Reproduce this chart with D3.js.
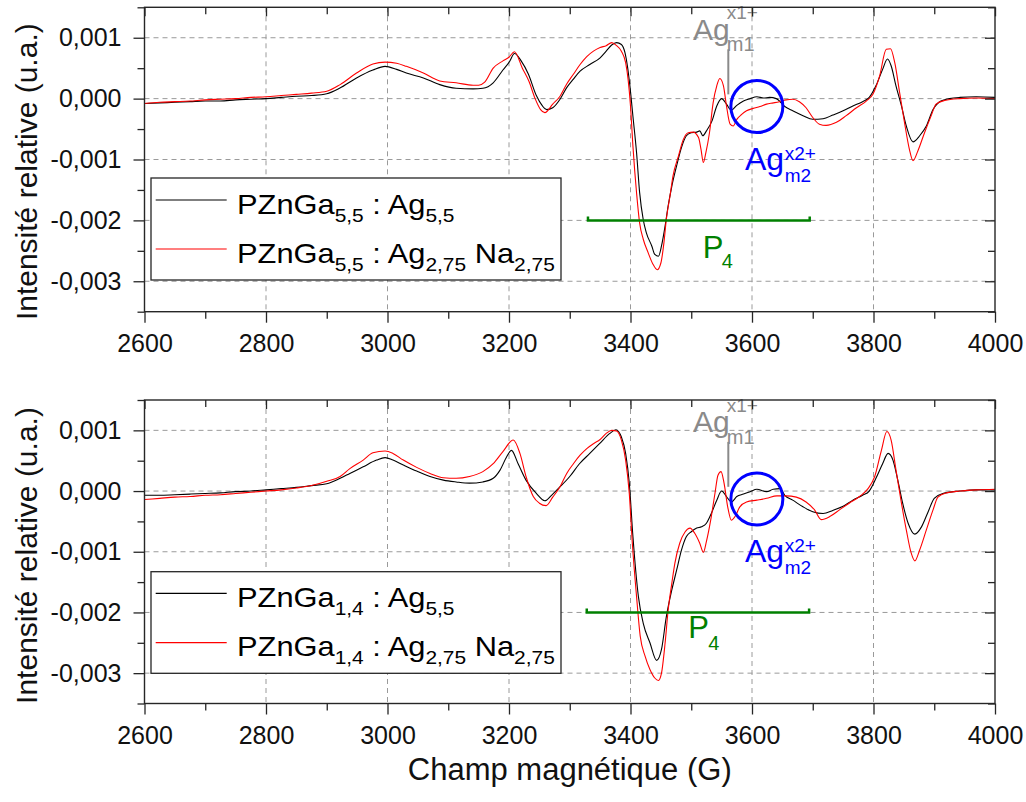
<!DOCTYPE html>
<html><head><meta charset="utf-8">
<script src="https://cdn.jsdelivr.net/npm/d3@7"></script>
<style>
body{margin:0;background:#fff}
svg{display:block}
text{font-family:"Liberation Sans",Arial,Helvetica,sans-serif}
</style>
</head><body>
<svg id="chart" width="1026" height="802"></svg>
<script>
// ---- DATA (field in G, intensity in units of 0.001 u.a.) ----
const topBlack = [[2600,-0.08],[2625,-0.07],[2650,-0.06],[2675,-0.05],[2700,-0.04],[2725,-0.04],[2750,-0.02],[2775,-0.01],[2800,0.0],[2825,0.02],[2850,0.04],[2875,0.05],[2900,0.08],[2921,0.17],[2949,0.34],[2976,0.47],[2996,0.53],[3015,0.48],[3031,0.42],[3059,0.34],[3086,0.23],[3113,0.17],[3141,0.16],[3157,0.17],[3174,0.26],[3190,0.47],[3201,0.61],[3209,0.74],[3220,0.62],[3232,0.4],[3245,0.05],[3255,-0.12],[3262,-0.18],[3272,-0.15],[3284,-0.01],[3295,0.18],[3306,0.32],[3317,0.45],[3333,0.56],[3350,0.67],[3360,0.78],[3369,0.88],[3377,0.92],[3385,0.89],[3391,0.75],[3395,0.53],[3399,0.21],[3404,-0.29],[3410,-0.89],[3415,-1.54],[3421,-1.99],[3426,-2.2],[3435,-2.42],[3440,-2.56],[3446,-2.59],[3451,-2.42],[3457,-2.09],[3462,-1.76],[3468,-1.44],[3476,-1.1],[3484,-0.8],[3492,-0.61],[3500,-0.56],[3509,-0.55],[3514,-0.53],[3519,-0.61],[3525,-0.53],[3534,-0.37],[3542,-0.12],[3550,0.0],[3558,-0.09],[3566,-0.19],[3575,-0.11],[3586,-0.04],[3597,0.0],[3608,0.03],[3619,0.01],[3629,0.02],[3640,0.0],[3654,-0.13],[3667,-0.2],[3684,-0.28],[3700,-0.34],[3717,-0.33],[3733,-0.27],[3750,-0.2],[3766,-0.12],[3782,-0.05],[3793,0.02],[3804,0.21],[3815,0.48],[3823,0.65],[3829,0.54],[3837,0.21],[3846,-0.12],[3854,-0.45],[3865,-0.71],[3876,-0.61],[3887,-0.45],[3898,-0.18],[3911,-0.04],[3925,0.0],[3942,0.02],[3969,0.03],[4000,0.02]];

const topRed = [[2600,-0.08],[2625,-0.06],[2650,-0.05],[2675,-0.04],[2700,-0.02],[2725,-0.01],[2750,0.0],[2775,0.02],[2800,0.03],[2825,0.05],[2850,0.07],[2875,0.09],[2900,0.12],[2922,0.23],[2949,0.42],[2976,0.57],[2996,0.6],[3015,0.58],[3031,0.53],[3059,0.42],[3086,0.29],[3113,0.26],[3141,0.22],[3150,0.22],[3160,0.27],[3174,0.5],[3190,0.62],[3200,0.68],[3209,0.77],[3222,0.5],[3233,0.28],[3243,0.0],[3252,-0.18],[3259,-0.23],[3272,-0.09],[3284,0.04],[3295,0.24],[3306,0.4],[3317,0.56],[3328,0.69],[3339,0.78],[3350,0.84],[3360,0.87],[3369,0.92],[3377,0.87],[3385,0.78],[3392,0.59],[3396,0.32],[3400,-0.12],[3404,-0.78],[3410,-1.55],[3415,-2.04],[3421,-2.31],[3429,-2.53],[3437,-2.72],[3444,-2.81],[3450,-2.7],[3455,-2.37],[3459,-1.98],[3465,-1.6],[3470,-1.27],[3479,-0.94],[3487,-0.67],[3495,-0.56],[3503,-0.55],[3512,-0.64],[3516,-0.83],[3520,-1.05],[3524,-0.89],[3530,-0.56],[3536,-0.07],[3542,0.21],[3547,0.33],[3553,0.21],[3558,-0.12],[3564,-0.42],[3569,-0.45],[3575,-0.34],[3583,-0.26],[3591,-0.2],[3602,-0.16],[3613,-0.13],[3624,-0.09],[3635,-0.07],[3645,-0.05],[3656,-0.02],[3667,-0.01],[3678,-0.05],[3689,-0.15],[3700,-0.31],[3711,-0.42],[3722,-0.44],[3739,-0.39],[3755,-0.28],[3772,-0.15],[3788,-0.04],[3799,0.07],[3810,0.37],[3821,0.81],[3828,0.82],[3835,0.59],[3843,0.1],[3851,-0.39],[3859,-0.83],[3865,-1.02],[3873,-0.86],[3884,-0.56],[3895,-0.28],[3903,-0.09],[3917,-0.03],[3942,0.0],[3969,0.01],[4000,0.0]];

const bottomBlack = [[2600,-0.07],[2625,-0.07],[2650,-0.06],[2675,-0.05],[2700,-0.04],[2725,-0.03],[2750,-0.01],[2775,0.0],[2800,0.02],[2825,0.04],[2850,0.06],[2875,0.09],[2900,0.12],[2922,0.21],[2938,0.29],[2960,0.4],[2982,0.51],[2996,0.55],[3009,0.51],[3026,0.43],[3048,0.33],[3070,0.24],[3092,0.18],[3113,0.15],[3135,0.13],[3157,0.15],[3174,0.21],[3185,0.34],[3196,0.56],[3204,0.67],[3215,0.45],[3228,0.18],[3245,-0.04],[3259,-0.16],[3270,-0.07],[3283,0.06],[3300,0.24],[3316,0.45],[3333,0.62],[3349,0.78],[3366,0.95],[3376,1.01],[3385,0.89],[3392,0.62],[3398,0.13],[3404,-0.75],[3413,-1.74],[3421,-2.18],[3432,-2.5],[3443,-2.79],[3451,-2.61],[3459,-2.07],[3468,-1.63],[3476,-1.3],[3484,-0.97],[3492,-0.75],[3500,-0.67],[3509,-0.61],[3517,-0.59],[3525,-0.53],[3533,-0.37],[3542,-0.15],[3550,0.0],[3558,-0.09],[3566,-0.18],[3575,-0.09],[3586,-0.05],[3597,-0.01],[3608,0.03],[3624,-0.01],[3635,0.03],[3646,0.04],[3654,-0.07],[3667,-0.15],[3684,-0.26],[3700,-0.34],[3717,-0.37],[3733,-0.32],[3750,-0.25],[3766,-0.15],[3782,-0.07],[3793,0.0],[3804,0.21],[3815,0.45],[3824,0.62],[3832,0.51],[3840,0.18],[3848,-0.2],[3857,-0.53],[3868,-0.71],[3879,-0.59],[3890,-0.34],[3900,-0.12],[3914,-0.04],[3942,0.0],[3969,0.02],[4000,0.02]];

const bottomRed = [[2600,-0.14],[2625,-0.12],[2650,-0.1],[2675,-0.09],[2700,-0.07],[2725,-0.06],[2750,-0.04],[2775,-0.02],[2800,0.0],[2825,0.02],[2850,0.05],[2875,0.09],[2900,0.16],[2922,0.24],[2938,0.37],[2960,0.51],[2976,0.63],[2996,0.66],[3009,0.62],[3026,0.51],[3048,0.39],[3070,0.29],[3092,0.22],[3113,0.21],[3135,0.24],[3157,0.32],[3174,0.45],[3190,0.65],[3207,0.84],[3218,0.62],[3228,0.24],[3240,-0.09],[3250,-0.2],[3261,-0.24],[3272,-0.1],[3284,0.07],[3295,0.29],[3306,0.45],[3317,0.59],[3328,0.7],[3339,0.78],[3350,0.85],[3360,0.95],[3369,1.0],[3377,0.99],[3385,0.84],[3392,0.51],[3398,-0.04],[3403,-0.86],[3410,-1.74],[3416,-2.39],[3424,-2.72],[3432,-2.94],[3440,-3.08],[3446,-3.12],[3451,-3.0],[3457,-2.5],[3462,-1.96],[3468,-1.52],[3473,-1.19],[3481,-0.86],[3490,-0.67],[3498,-0.61],[3506,-0.7],[3514,-0.86],[3520,-1.01],[3525,-0.83],[3532,-0.48],[3539,-0.04],[3544,0.26],[3549,0.32],[3554,0.13],[3560,-0.26],[3566,-0.48],[3572,-0.42],[3580,-0.26],[3591,-0.18],[3608,-0.15],[3624,-0.12],[3641,-0.08],[3656,-0.08],[3673,-0.1],[3689,-0.18],[3703,-0.31],[3714,-0.47],[3728,-0.42],[3744,-0.31],[3760,-0.2],[3777,-0.09],[3791,0.04],[3802,0.24],[3813,0.67],[3822,0.98],[3829,0.84],[3837,0.35],[3846,-0.2],[3854,-0.64],[3862,-1.02],[3868,-1.15],[3876,-0.97],[3887,-0.64],[3898,-0.31],[3906,-0.1],[3920,-0.03],[3942,0.0],[3969,0.02],[4000,0.03]];

const xTickValues = [2600,2800,3000,3200,3400,3600,3800,4000];
const xMinorValues = [2700,2900,3100,3300,3500,3700,3900];
const yTickValues = [-0.003,-0.002,-0.001,0,0.001];
const yTickLabels = ["-0,003","-0,002","-0,001","0,000","0,001"];
const yMinorValues = [-0.0035,-0.0025,-0.0015,-0.0005,0.0005,0.0015];

const topLegend = [
  [{t:"PZnGa"},{t:"5,5",s:1},{t:" : Ag"},{t:"5,5",s:1}],
  [{t:"PZnGa"},{t:"5,5",s:1},{t:" : Ag"},{t:"2,75",s:1},{t:" Na"},{t:"2,75",s:1}]
];
const bottomLegend = [
  [{t:"PZnGa"},{t:"1,4",s:1},{t:" : Ag"},{t:"5,5",s:1}],
  [{t:"PZnGa"},{t:"1,4",s:1},{t:" : Ag"},{t:"2,75",s:1},{t:" Na"},{t:"2,75",s:1}]
];
const yTitle = "Intensité relative (u.a.)";
const xTitle = "Champ magnétique (G)";

// ---- LAYOUT ----
const svg = d3.select("#chart");
const X0 = 144.5, X1 = 995;
const x = d3.scaleLinear().domain([2600,4000]).range([X0,X1]);

const panels = [
  {top:7.3, bottom:311.7, black:topBlack, red:topRed, legend:topLegend,
   legY0:178, legY1:280, lineY:[200,249], textY:[214,263], titleY:171.7,
   p4:{x:3519,y:-2.615,sx:3550,sy:-2.78}, bracket:[3330,3695]},
  {top:400, bottom:703.5, black:bottomBlack, red:bottomRed, legend:bottomLegend,
   legY0:571.7, legY1:673.3, lineY:[593.3,642.7], textY:[607,656], titleY:555.5,
   p4:{x:3495,y:-2.427,sx:3528,sy:-2.62}, bracket:[3328,3694]}
];

const axisColor = "#262626";

function styleAxis(g){
  g.select(".domain").remove();
  g.selectAll(".tick line").attr("stroke",axisColor).attr("stroke-width",1.3);
  g.selectAll("text").attr("font-size",25).attr("fill","#111")
    .attr("font-family",'"Liberation Sans",Arial,sans-serif');
}

panels.forEach(p => {
  const y = d3.scaleLinear().domain([-0.0035,0.0015]).range([p.bottom,p.top]);
  const g = svg.append("g");

  // grid
  g.append("g").selectAll("line").data(xTickValues.filter(d=>d>2600&&d<4000)).join("line")
    .attr("x1",d=>x(d)).attr("x2",d=>x(d)).attr("y1",p.top).attr("y2",p.bottom)
    .attr("stroke","#9a9a9a").attr("stroke-width",1).attr("stroke-dasharray","5,4");
  g.append("g").selectAll("line").data(yTickValues).join("line")
    .attr("x1",X0).attr("x2",X1).attr("y1",d=>y(d)).attr("y2",d=>y(d))
    .attr("stroke","#9a9a9a").attr("stroke-width",1).attr("stroke-dasharray","5,4");

  // curves
  const line = d3.line().x(d=>x(d[0])).y(d=>y(d[1]*1e-3)).curve(d3.curveMonotoneX);
  g.append("path").datum(p.black).attr("d",line).attr("fill","none")
    .attr("stroke","#000").attr("stroke-width",1.1);
  g.append("path").datum(p.red).attr("d",line).attr("fill","none")
    .attr("stroke","#ff0000").attr("stroke-width",1.1);

  // legend
  const lg = g.append("g");
  lg.append("rect").attr("x",151).attr("y",p.legY0).attr("width",410).attr("height",p.legY1-p.legY0)
    .attr("fill","#fff").attr("stroke",axisColor).attr("stroke-width",1.3);
  ["#000","#ff0000"].forEach((c,i)=>{
    lg.append("line").attr("x1",155.7).attr("x2",226.7).attr("y1",p.lineY[i]).attr("y2",p.lineY[i])
      .attr("stroke",c).attr("stroke-width",1.2);
  });
  const rows = p.legend.map((parts,i)=>{
    const t = lg.append("text").attr("font-size",28).attr("fill","#000").style("white-space","pre");
    let off = 0;
    parts.forEach(pt=>{
      const target = pt.s ? 8 : 0;
      t.append("tspan").text(pt.t).attr("font-size",pt.s?19:28).attr("dy",target-off);
      off = target;
    });
    return t;
  });
  const w2 = rows[1].node().getComputedTextLength();
  const sc = (555-237)/w2;
  rows.forEach((t,i)=>t.attr("transform",`translate(237,${p.textY[i]}) scale(${sc},1)`));

  // green P4 bracket
  const by = y(-0.002);
  g.append("path")
    .attr("d",`M${x(p.bracket[0])},${by-4}V${by}H${x(p.bracket[1])}V${by-4}`)
    .attr("fill","none").attr("stroke","#008000").attr("stroke-width",2.5);
  g.append("text").attr("x",x(p.p4.x)).attr("y",y(p.p4.y*1e-3)).attr("font-size",31)
    .attr("fill","#008000").text("P");
  g.append("text").attr("x",x(p.p4.sx)).attr("y",y(p.p4.sy*1e-3)).attr("font-size",20)
    .attr("fill","#008000").text("4");

  // gray Ag m1 annotation
  const gray = "#8a8a8a";
  g.append("line").attr("x1",x(3561)).attr("x2",x(3561))
    .attr("y1",y(0.81e-3)).attr("y2",y(0.07e-3)).attr("stroke",gray).attr("stroke-width",2);
  g.append("text").attr("x",x(3503)).attr("y",y(0.965e-3)).attr("font-size",30).attr("fill",gray).text("Ag");
  g.append("text").attr("x",x(3558.5)).attr("y",y(0.775e-3)).attr("font-size",20).attr("fill",gray).text("m1");
  g.append("text").attr("x",x(3558.5)).attr("y",y(1.31e-3)).attr("font-size",19).attr("fill",gray).text("x1+");

  // blue circle Ag m2 annotation
  const blue = "#0000ff";
  g.append("circle").attr("cx",x(3608)).attr("cy",y(-0.13e-3)).attr("r",26)
    .attr("fill","none").attr("stroke",blue).attr("stroke-width",3);
  g.append("text").attr("x",x(3588.5)).attr("y",y(-1.17e-3)).attr("font-size",32).attr("fill",blue).text("Ag");
  g.append("text").attr("x",x(3654)).attr("y",y(-1.37e-3)).attr("font-size",19).attr("fill",blue).text("m2");
  g.append("text").attr("x",x(3654)).attr("y",y(-1.0e-3)).attr("font-size",19).attr("fill",blue).text("x2+");

  // frame
  g.append("rect").attr("x",X0).attr("y",p.top).attr("width",X1-X0).attr("height",p.bottom-p.top)
    .attr("fill","none").attr("stroke",axisColor).attr("stroke-width",1.4);

  // axes
  g.append("g").attr("transform",`translate(${X0},0)`)
    .call(d3.axisLeft(y).tickValues(yTickValues).tickSize(11).tickPadding(12)
      .tickFormat((d,i)=>yTickLabels[i])).call(styleAxis);
  g.append("g").attr("transform",`translate(${X0},0)`)
    .call(d3.axisLeft(y).tickValues(yMinorValues).tickSize(7).tickFormat("")).call(styleAxis);
  g.append("g").attr("transform",`translate(${X1},0)`)
    .call(d3.axisRight(y).tickValues(yTickValues).tickSize(-10).tickFormat("")).call(styleAxis);
  g.append("g").attr("transform",`translate(${X1},0)`)
    .call(d3.axisRight(y).tickValues(yMinorValues).tickSize(-7).tickFormat("")).call(styleAxis);
  g.append("g").attr("transform",`translate(0,${p.bottom})`)
    .call(d3.axisBottom(x).tickValues(xTickValues).tickSize(11).tickPadding(12)
      .tickFormat(d3.format("d"))).call(styleAxis);
  g.append("g").attr("transform",`translate(0,${p.bottom})`)
    .call(d3.axisBottom(x).tickValues(xMinorValues).tickSize(7).tickFormat("")).call(styleAxis);
  g.append("g").attr("transform",`translate(0,${p.top})`)
    .call(d3.axisTop(x).tickValues(xTickValues).tickSize(-9).tickFormat("")).call(styleAxis);
  g.append("g").attr("transform",`translate(0,${p.top})`)
    .call(d3.axisTop(x).tickValues(xMinorValues).tickSize(-7).tickFormat("")).call(styleAxis);

  // y title
  g.append("text").attr("transform",`translate(37,${p.titleY}) rotate(-90)`)
    .attr("text-anchor","middle").attr("font-size",30).attr("fill","#111").text(yTitle);
});

svg.append("text").attr("x",(X0+X1)/2).attr("y",780).attr("text-anchor","middle")
  .attr("font-size",31).attr("fill","#111").text(xTitle);
</script>
</body></html>
